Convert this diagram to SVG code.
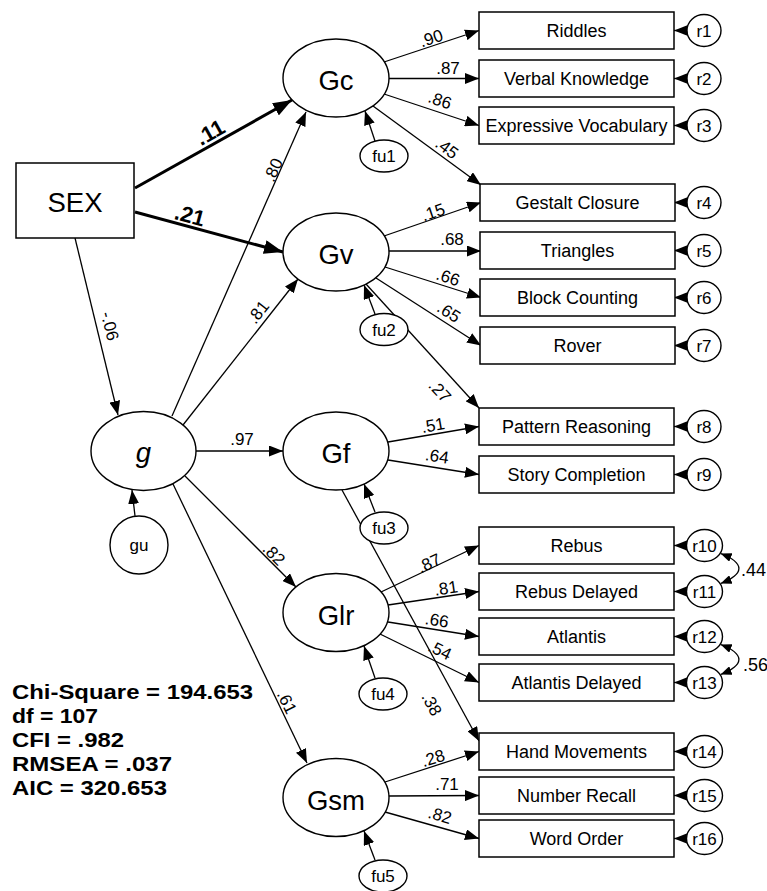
<svg xmlns="http://www.w3.org/2000/svg" width="767" height="891" viewBox="0 0 767 891">
  <style>
    .shape { fill: #fff; stroke: #000; stroke-width: 1.4; }
    .box { fill: #fff; stroke: #000; stroke-width: 1.5; }
    .path { fill: none; stroke: #000; stroke-width: 1.3; marker-end: url(#arrow); }
    .bold { fill: none; stroke: #000; stroke-width: 3; marker-end: url(#arrowBig); }
    .cov { fill: none; stroke: #000; stroke-width: 1.3; marker-start: url(#arrowSmall); marker-end: url(#arrowSmall); }
    text { font-family: "Liberation Sans", Arial, sans-serif; fill: #000; }
    .latent { font-size: 27.5px; text-anchor: middle; }
    .obs { font-size: 18px; text-anchor: middle; }
    .err { font-size: 17px; text-anchor: middle; }
    .lbl { font-size: 17px; text-anchor: middle; }
    .blbl { font-size: 22px; font-weight: bold; text-anchor: middle; }
    .fit { font-size: 21px; font-weight: bold; }
  </style>
  <defs>
    <marker id="arrow" markerUnits="userSpaceOnUse" markerWidth="14" markerHeight="11" refX="14" refY="5.5" orient="auto">
      <path d="M0,0 L14,5.5 L0,11 z" fill="#000"/>
    </marker>
    <marker id="arrowBig" markerUnits="userSpaceOnUse" markerWidth="19" markerHeight="14" refX="19" refY="7" orient="auto">
      <path d="M0,0 L19,7 L0,14 z" fill="#000"/>
    </marker>
    <marker id="arrowSmall" markerUnits="userSpaceOnUse" markerWidth="11" markerHeight="9" refX="11" refY="4.5" orient="auto-start-reverse">
      <path d="M0,0 L11,4.5 L0,9 z" fill="#000"/>
    </marker>
  </defs>

  <!-- connectors -->
  <g id="connectors">
    <!-- SEX effects -->
    <line class="bold" x1="135" y1="188" x2="292" y2="100"/>
    <line class="bold" x1="135" y1="212" x2="283" y2="252"/>
    <line class="path" x1="75" y1="238" x2="118" y2="415"/>
    <!-- g to broad abilities -->
    <line class="path" x1="172" y1="416" x2="306" y2="112"/>
    <line class="path" x1="183" y1="425" x2="298" y2="279"/>
    <line class="path" x1="196" y1="451" x2="283" y2="451"/>
    <line class="path" x1="185" y1="476" x2="296" y2="587"/>
    <line class="path" x1="173" y1="484" x2="307" y2="763"/>
    <!-- disturbances -->
    <line class="path" x1="135" y1="516" x2="132" y2="490"/>
    <line class="path" x1="375" y1="141" x2="365" y2="111"/>
    <line class="path" x1="375" y1="314" x2="364" y2="285"/>
    <line class="path" x1="375" y1="512" x2="364" y2="484"/>
    <line class="path" x1="375" y1="678" x2="364" y2="646"/>
    <line class="path" x1="375" y1="860" x2="364" y2="831"/>
    <!-- Gc loadings -->
    <line class="path" x1="384" y1="62" x2="479" y2="30.5"/>
    <line class="path" x1="389" y1="78.5" x2="479" y2="78.5"/>
    <line class="path" x1="384" y1="94" x2="479" y2="125.5"/>
    <line class="path" x1="373" y1="106" x2="481" y2="185"/>
    <!-- Gv loadings -->
    <line class="path" x1="384" y1="236" x2="481" y2="202.5"/>
    <line class="path" x1="389" y1="251" x2="481" y2="251"/>
    <line class="path" x1="385" y1="267" x2="481" y2="297.5"/>
    <line class="path" x1="376" y1="278" x2="481" y2="345.5"/>
    <line class="path" x1="366" y1="284" x2="479" y2="408"/>
    <!-- Gf loadings -->
    <line class="path" x1="388" y1="442" x2="479" y2="426.5"/>
    <line class="path" x1="388" y1="460" x2="479" y2="474.5"/>
    <line class="path" x1="342" y1="490" x2="479" y2="741"/>
    <!-- Glr loadings -->
    <line class="path" x1="381" y1="592" x2="479" y2="545.5"/>
    <line class="path" x1="388" y1="605" x2="479" y2="591.5"/>
    <line class="path" x1="388" y1="622" x2="479" y2="636.5"/>
    <line class="path" x1="380" y1="634" x2="479" y2="682.5"/>
    <!-- Gsm loadings -->
    <line class="path" x1="385" y1="782" x2="479" y2="751.5"/>
    <line class="path" x1="389" y1="796" x2="479" y2="795.5"/>
    <line class="path" x1="385" y1="812" x2="479" y2="838.5"/>
    <!-- residual arrows -->
    <line class="path" x1="687" y1="30.5" x2="674" y2="30.5"/>
    <line class="path" x1="687" y1="78.5" x2="674" y2="78.5"/>
    <line class="path" x1="687" y1="125.5" x2="674" y2="125.5"/>
    <line class="path" x1="687" y1="202.5" x2="674" y2="202.5"/>
    <line class="path" x1="687" y1="250.5" x2="674" y2="250.5"/>
    <line class="path" x1="687" y1="297.5" x2="674" y2="297.5"/>
    <line class="path" x1="687" y1="345.5" x2="674" y2="345.5"/>
    <line class="path" x1="687" y1="426.5" x2="674" y2="426.5"/>
    <line class="path" x1="687" y1="474.5" x2="674" y2="474.5"/>
    <line class="path" x1="686" y1="545.5" x2="674" y2="545.5"/>
    <line class="path" x1="686" y1="591.5" x2="674" y2="591.5"/>
    <line class="path" x1="686" y1="636.5" x2="674" y2="636.5"/>
    <line class="path" x1="686" y1="682.5" x2="674" y2="682.5"/>
    <line class="path" x1="686" y1="751.5" x2="674" y2="751.5"/>
    <line class="path" x1="686" y1="795.5" x2="674" y2="795.5"/>
    <line class="path" x1="686" y1="838.5" x2="674" y2="838.5"/>
    <!-- residual covariances -->
    <path class="cov" d="M720.6,553.5 C745,563 745,574 720.6,583.5"/>
    <path class="cov" d="M720.6,644.5 C745,654 745,665 720.6,674.5"/>

    <!-- path coefficients -->
    <text class="blbl" transform="translate(210,132) rotate(-29.3)" y="8">.11</text>
    <text class="blbl" transform="translate(190,215) rotate(15.1)" y="8">.21</text>
    <text class="lbl" transform="translate(110,326) rotate(76)" y="6">-.06</text>
    <text class="lbl" transform="translate(273,170) rotate(-66)" y="6">.80</text>
    <text class="lbl" transform="translate(258,312) rotate(-51.8)" y="6">.81</text>
    <text class="lbl" x="242" y="445">.97</text>
    <text class="lbl" transform="translate(274,554) rotate(45)" y="6">.82</text>
    <text class="lbl" transform="translate(287,702) rotate(64)" y="6">.61</text>
    <text class="lbl" transform="translate(431,38) rotate(-18.3)" y="6">.90</text>
    <text class="lbl" x="448" y="73.5">.87</text>
    <text class="lbl" transform="translate(440,100) rotate(18.8)" y="6">.86</text>
    <text class="lbl" transform="translate(447,148) rotate(36.4)" y="6">.45</text>
    <text class="lbl" transform="translate(433,212) rotate(-18.8)" y="6">.15</text>
    <text class="lbl" x="452" y="245">.68</text>
    <text class="lbl" transform="translate(448,277) rotate(18)" y="6">.66</text>
    <text class="lbl" transform="translate(449,312) rotate(33)" y="6">.65</text>
    <text class="lbl" transform="translate(440,391) rotate(47.6)" y="6">.27</text>
    <text class="lbl" transform="translate(433,425) rotate(-9.9)" y="6">.51</text>
    <text class="lbl" transform="translate(437,456) rotate(9)" y="6">.64</text>
    <text class="lbl" transform="translate(432,704) rotate(61.4)" y="6">.38</text>
    <text class="lbl" transform="translate(429,563) rotate(-25)" y="6">.87</text>
    <text class="lbl" transform="translate(446,588) rotate(-8.4)" y="6">.81</text>
    <text class="lbl" transform="translate(437,620) rotate(9.6)" y="6">.66</text>
    <text class="lbl" transform="translate(440,650) rotate(25.7)" y="6">.54</text>
    <text class="lbl" transform="translate(433,758) rotate(-17.5)" y="6">.28</text>
    <text class="lbl" x="447" y="790">.71</text>
    <text class="lbl" transform="translate(440,815) rotate(16.3)" y="6">.82</text>
    <text class="obs" x="741" y="576" text-anchor="start" style="text-anchor:start">.44</text>
    <text class="obs" x="743" y="671" text-anchor="start" style="text-anchor:start">.56</text>
  </g>

  <!-- exogenous observed variable -->
  <g id="SEX">
    <rect class="box" x="16" y="163" width="118" height="75"/>
    <text class="latent" x="75" y="212">SEX</text>
  </g>

  <!-- latent factors -->
  <g id="g">
    <ellipse class="shape" cx="143.5" cy="451" rx="52.5" ry="39.5"/>
    <text class="latent" x="143.5" y="462" font-style="italic">g</text>
  </g>
  <g id="gu">
    <circle class="shape" cx="139" cy="545" r="29"/>
    <text class="err" x="139" y="551">gu</text>
  </g>
  <g id="Gc">
    <ellipse class="shape" cx="336" cy="78" rx="53" ry="39"/>
    <text class="latent" x="336" y="90">Gc</text>
  </g>
  <g id="Gv">
    <ellipse class="shape" cx="336" cy="252" rx="53" ry="39"/>
    <text class="latent" x="336" y="264">Gv</text>
  </g>
  <g id="Gf">
    <ellipse class="shape" cx="336" cy="451" rx="53" ry="39"/>
    <text class="latent" x="336" y="463">Gf</text>
  </g>
  <g id="Glr">
    <ellipse class="shape" cx="336" cy="612.5" rx="53" ry="39"/>
    <text class="latent" x="336" y="624.5">Glr</text>
  </g>
  <g id="Gsm">
    <ellipse class="shape" cx="336" cy="797.5" rx="53" ry="39"/>
    <text class="latent" x="336" y="809.5">Gsm</text>
  </g>

  <!-- factor disturbances -->
  <g id="fu1"><ellipse class="shape" cx="384" cy="156" rx="24" ry="16"/><text class="err" x="384" y="162">fu1</text></g>
  <g id="fu2"><ellipse class="shape" cx="384" cy="329.5" rx="24" ry="16"/><text class="err" x="384" y="335.5">fu2</text></g>
  <g id="fu3"><ellipse class="shape" cx="384" cy="528" rx="24" ry="16"/><text class="err" x="384" y="534">fu3</text></g>
  <g id="fu4"><ellipse class="shape" cx="383" cy="694" rx="24" ry="16"/><text class="err" x="383" y="700">fu4</text></g>
  <g id="fu5"><ellipse class="shape" cx="383" cy="876" rx="24" ry="16"/><text class="err" x="383" y="882">fu5</text></g>

  <!-- indicators -->
  <g id="Riddles"><rect class="box" x="479" y="12" width="195" height="37"/><text class="obs" x="576.5" y="37">Riddles</text></g>
  <g id="VerbalKnowledge"><rect class="box" x="479" y="60" width="195" height="37"/><text class="obs" x="576.5" y="85">Verbal Knowledge</text></g>
  <g id="ExpressiveVocabulary"><rect class="box" x="479" y="107" width="195" height="37"/><text class="obs" x="576.5" y="132">Expressive Vocabulary</text></g>
  <g id="GestaltClosure"><rect class="box" x="480" y="184" width="195" height="37"/><text class="obs" x="577.5" y="209">Gestalt Closure</text></g>
  <g id="Triangles"><rect class="box" x="480" y="232" width="195" height="37"/><text class="obs" x="577.5" y="257">Triangles</text></g>
  <g id="BlockCounting"><rect class="box" x="480" y="279" width="195" height="37"/><text class="obs" x="577.5" y="304">Block Counting</text></g>
  <g id="Rover"><rect class="box" x="480" y="327" width="195" height="37"/><text class="obs" x="577.5" y="352">Rover</text></g>
  <g id="PatternReasoning"><rect class="box" x="479" y="408" width="195" height="37"/><text class="obs" x="576.5" y="433">Pattern Reasoning</text></g>
  <g id="StoryCompletion"><rect class="box" x="479" y="456" width="195" height="37"/><text class="obs" x="576.5" y="481">Story Completion</text></g>
  <g id="Rebus"><rect class="box" x="479" y="527" width="195" height="37"/><text class="obs" x="576.5" y="552">Rebus</text></g>
  <g id="RebusDelayed"><rect class="box" x="479" y="573" width="195" height="37"/><text class="obs" x="576.5" y="598">Rebus Delayed</text></g>
  <g id="Atlantis"><rect class="box" x="479" y="618" width="195" height="37"/><text class="obs" x="576.5" y="643">Atlantis</text></g>
  <g id="AtlantisDelayed"><rect class="box" x="479" y="664" width="195" height="37"/><text class="obs" x="576.5" y="689">Atlantis Delayed</text></g>
  <g id="HandMovements"><rect class="box" x="479" y="733" width="195" height="37"/><text class="obs" x="576.5" y="758">Hand Movements</text></g>
  <g id="NumberRecall"><rect class="box" x="479" y="777" width="195" height="37"/><text class="obs" x="576.5" y="802">Number Recall</text></g>
  <g id="WordOrder"><rect class="box" x="479" y="820" width="195" height="37"/><text class="obs" x="576.5" y="845">Word Order</text></g>

  <!-- indicator residuals -->
  <g id="r1"><ellipse class="shape" cx="704" cy="30.5" rx="17" ry="16"/><text class="err" x="704" y="36.5">r1</text></g>
  <g id="r2"><ellipse class="shape" cx="704" cy="78.5" rx="17" ry="16"/><text class="err" x="704" y="84.5">r2</text></g>
  <g id="r3"><ellipse class="shape" cx="704" cy="125.5" rx="17" ry="16"/><text class="err" x="704" y="131.5">r3</text></g>
  <g id="r4"><ellipse class="shape" cx="704" cy="202.5" rx="17" ry="16"/><text class="err" x="704" y="208.5">r4</text></g>
  <g id="r5"><ellipse class="shape" cx="704" cy="250.5" rx="17" ry="16"/><text class="err" x="704" y="256.5">r5</text></g>
  <g id="r6"><ellipse class="shape" cx="704" cy="297.5" rx="17" ry="16"/><text class="err" x="704" y="303.5">r6</text></g>
  <g id="r7"><ellipse class="shape" cx="704" cy="345.5" rx="17" ry="16"/><text class="err" x="704" y="351.5">r7</text></g>
  <g id="r8"><ellipse class="shape" cx="704" cy="426.5" rx="17" ry="16"/><text class="err" x="704" y="432.5">r8</text></g>
  <g id="r9"><ellipse class="shape" cx="704" cy="474.5" rx="17" ry="16"/><text class="err" x="704" y="480.5">r9</text></g>
  <g id="r10"><ellipse class="shape" cx="704.5" cy="545.5" rx="18" ry="16"/><text class="err" x="704.5" y="551.5">r10</text></g>
  <g id="r11"><ellipse class="shape" cx="704.5" cy="591.5" rx="18" ry="16"/><text class="err" x="704.5" y="597.5">r11</text></g>
  <g id="r12"><ellipse class="shape" cx="704.5" cy="636.5" rx="18" ry="16"/><text class="err" x="704.5" y="642.5">r12</text></g>
  <g id="r13"><ellipse class="shape" cx="704.5" cy="682.5" rx="18" ry="16"/><text class="err" x="704.5" y="688.5">r13</text></g>
  <g id="r14"><ellipse class="shape" cx="704.5" cy="751.5" rx="18" ry="16"/><text class="err" x="704.5" y="757.5">r14</text></g>
  <g id="r15"><ellipse class="shape" cx="704.5" cy="795.5" rx="18" ry="16"/><text class="err" x="704.5" y="801.5">r15</text></g>
  <g id="r16"><ellipse class="shape" cx="704.5" cy="838.5" rx="18" ry="16"/><text class="err" x="704.5" y="844.5">r16</text></g>

  <!-- model fit summary -->
  <g id="fit">
    <text class="fit" x="12" y="699" textLength="241" lengthAdjust="spacingAndGlyphs">Chi-Square = 194.653</text>
    <text class="fit" x="12" y="723" textLength="86" lengthAdjust="spacingAndGlyphs">df = 107</text>
    <text class="fit" x="12" y="747" textLength="112" lengthAdjust="spacingAndGlyphs">CFI = .982</text>
    <text class="fit" x="12" y="771" textLength="160" lengthAdjust="spacingAndGlyphs">RMSEA = .037</text>
    <text class="fit" x="12" y="795" textLength="155" lengthAdjust="spacingAndGlyphs">AIC = 320.653</text>
  </g>
</svg>
